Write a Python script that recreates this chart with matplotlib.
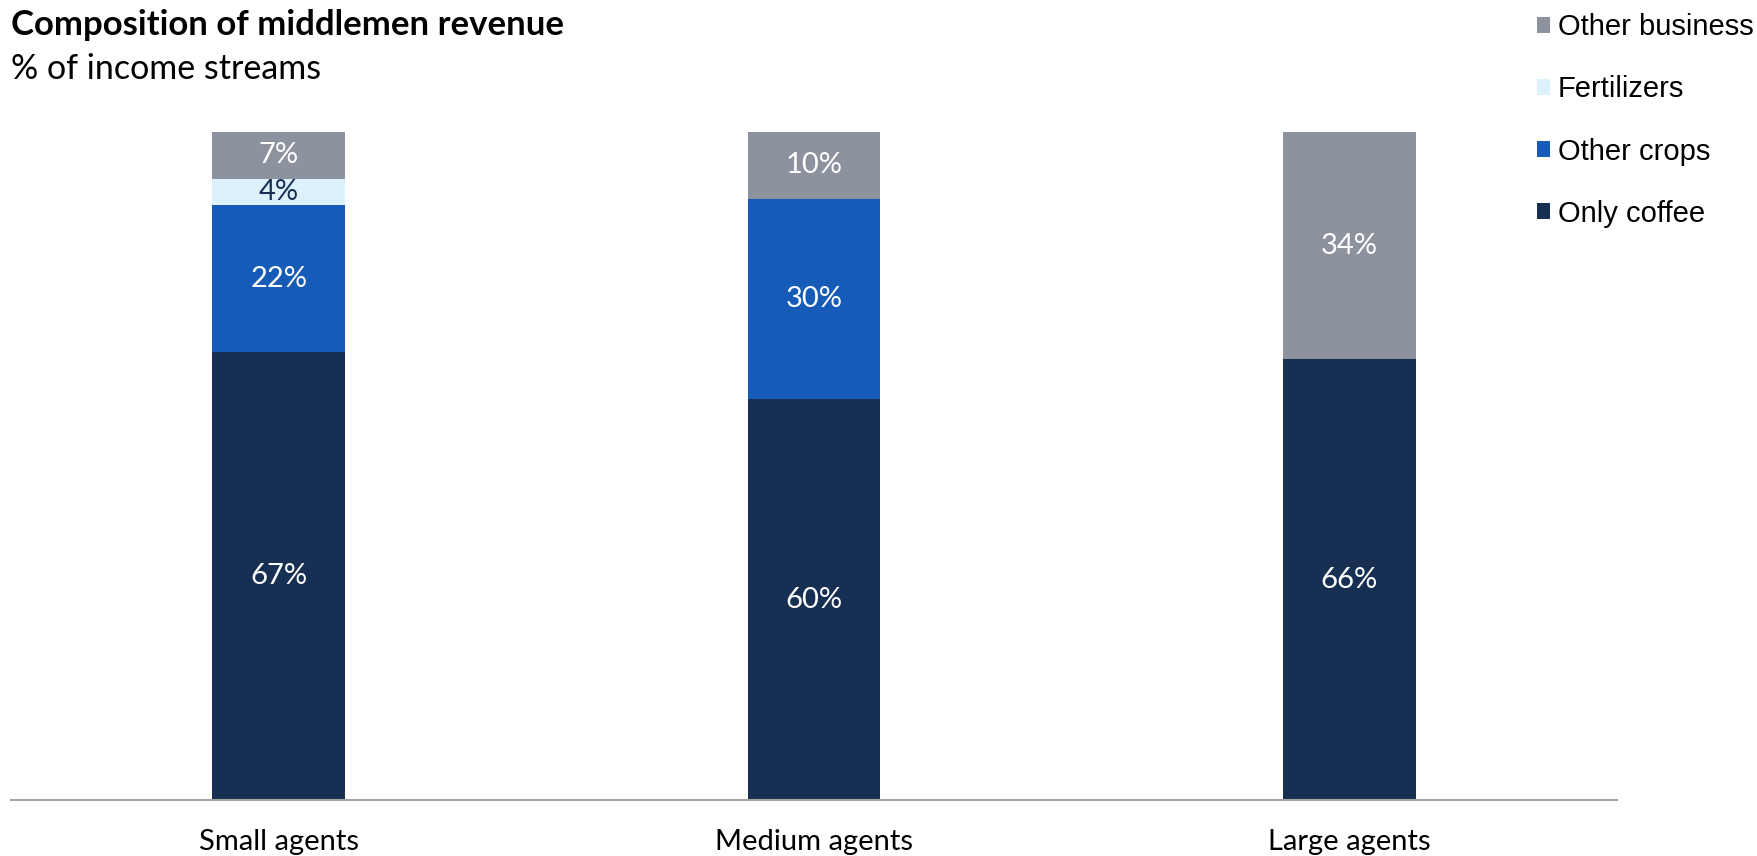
import matplotlib
matplotlib.use('Agg')
import matplotlib.pyplot as plt
from matplotlib.patches import Patch

# Revenue mix per agent size (% of income streams)
agents = ['Small agents', 'Medium agents', 'Large agents']
only_coffee = [67, 60, 66]
other_crops = [22, 30, 0]
fertilizers = [4, 0, 0]
other_business = [7, 10, 34]

series = [
    ('Only coffee', only_coffee, '#172F52', 'white'),
    ('Other crops', other_crops, '#175BB8', 'white'),
    ('Fertilizers', fertilizers, '#DDF1FC', '#172F52'),
    ('Other business', other_business, '#8C939F', 'white'),
]

W, H = 1758, 856
fig = plt.figure(figsize=(W / 100, H / 100), dpi=100)
ax = fig.add_axes([11 / W, 56 / H, (1617 - 11) / W, (800 - 132) / H])

x = range(len(agents))
bottom = [0] * len(agents)
for name, vals, color, txt_color in series:
    ax.bar(x, vals, width=0.248, bottom=bottom, color=color, linewidth=0)
    for i, v in enumerate(vals):
        if v > 0:
            ax.text(i, bottom[i] + v / 2, f'{v}%', ha='center', va='center',
                    color=txt_color, fontsize=21, family='Lato')
    bottom = [b + v for b, v in zip(bottom, vals)]

ax.set_xlim(-0.5, 2.5)
ax.set_ylim(0, 100)
ax.set_yticks([])
ax.set_xticks(list(x))
ax.set_xticklabels(agents, fontsize=21, family='Lato')
for lbl in ax.get_xticklabels():
    lbl.set_verticalalignment('baseline')
ax.tick_params(axis='x', length=0, pad=36)
for side in ['top', 'right', 'left']:
    ax.spines[side].set_visible(False)
ax.spines['bottom'].set_color('#A6A6A6')
ax.spines['bottom'].set_linewidth(1.5)

fig.text(11 / W, 1 - 35 / H, 'Composition of middlemen revenue', ha='left', va='baseline',
         fontsize=25, fontweight='bold', family='Lato')
fig.text(11 / W, 1 - 79 / H, '% of income streams', ha='left', va='baseline',
         fontsize=24.5, family='Lato')

handles = [Patch(facecolor=c, edgecolor='none', label=n) for n, _, c, _ in reversed(series)]
fig.legend(handles=handles, loc='upper left', bbox_to_anchor=(1511 / W, 1 + 13 / H),
           frameon=False, handlelength=0.45, handleheight=0.45, handletextpad=0.25,
           labelspacing=1.17, prop={'family': 'Liberation Sans', 'size': 21})

fig.savefig('out.png', dpi=100, facecolor='white')
